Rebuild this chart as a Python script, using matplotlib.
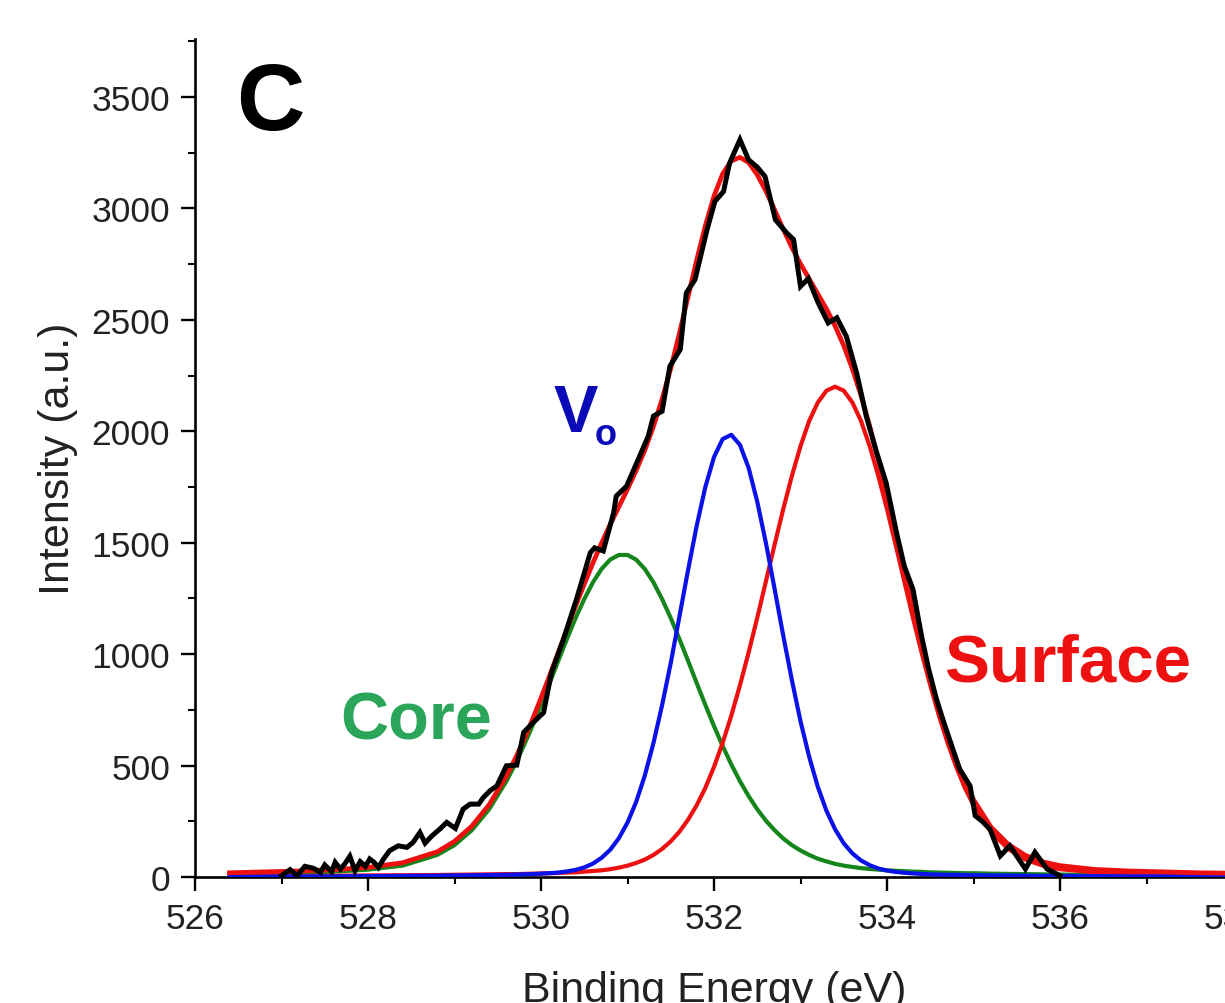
import matplotlib
matplotlib.use("Agg")
import matplotlib.pyplot as plt
from matplotlib.ticker import MultipleLocator

plt.rcParams['font.family'] = ['Liberation Sans', 'DejaVu Sans']

# ---------------- data ----------------
energy_fit = [526.4, 526.8, 527.2, 527.6, 528.0, 528.4, 528.8, 529.0, 529.2, 529.4,
              529.6, 529.7, 529.8, 529.9, 530.0, 530.1, 530.2, 530.3, 530.4, 530.5,
              530.6, 530.7, 530.8, 530.9, 531.0, 531.1, 531.2, 531.3, 531.4, 531.5,
              531.6, 531.7, 531.8, 531.9, 532.0, 532.1, 532.2, 532.3, 532.4, 532.5,
              532.6, 532.7, 532.8, 532.9, 533.0, 533.1, 533.2, 533.3, 533.4, 533.5,
              533.6, 533.7, 533.8, 533.9, 534.0, 534.1, 534.2, 534.3, 534.4, 534.5,
              534.6, 534.7, 534.8, 534.9, 535.0,
              535.2, 535.4, 535.6, 535.8, 536.0, 536.4, 536.8, 537.2, 537.6, 538.0]

core_fit = [13, 16, 19, 24, 33, 51, 99, 143, 210, 304,
            430, 505, 588, 677, 772, 870, 970, 1068, 1162, 1247,
            1322, 1382, 1424, 1445, 1445, 1424, 1382, 1322, 1247, 1162,
            1068, 970, 870, 772, 677, 588, 505, 430, 363, 304,
            253, 210, 173, 143, 119, 99, 82, 70, 59, 51,
            45, 40, 36, 33, 30, 28, 26, 24, 23, 21,
            20, 19, 18, 17, 17,
            15, 14, 13, 12, 11, 9, 8, 7, 6, 6]

vo_fit = [2, 2, 3, 3, 4, 5, 6, 7, 8, 9,
          10, 11, 12, 13, 15, 17, 20, 25, 32, 43,
          60, 86, 122, 174, 244, 337, 455, 601, 771, 960,
          1168, 1377, 1576, 1750, 1884, 1965, 1984, 1939, 1836, 1684,
          1499, 1294, 1084, 884, 699, 540, 405, 297, 214, 151,
          106, 74, 53, 38, 29, 23, 19, 16, 14, 12,
          11, 10, 10, 9, 8,
          7, 7, 6, 5, 5, 4, 3, 3, 2, 2]

surface_fit = [4, 4, 5, 6, 7, 8, 9, 10, 11, 12,
               13, 13, 14, 15, 16, 17, 18, 20, 21, 24,
               27, 30, 35, 42, 51, 63, 78, 99, 126, 160,
               203, 257, 322, 400, 494, 602, 724, 860, 1007, 1163,
               1326, 1490, 1650, 1799, 1933, 2046, 2129, 2182, 2200, 2182,
               2129, 2046, 1933, 1799, 1650, 1490, 1326, 1163, 1007, 860,
               724, 602, 494, 400, 322,
               203, 126, 78, 51, 35, 21, 16, 13, 11, 9]

envelope_fit = [19, 23, 27, 33, 43, 64, 113, 160, 228, 324,
                453, 529, 614, 705, 803, 904, 1008, 1112, 1216, 1314,
                1409, 1498, 1582, 1661, 1740, 1824, 1915, 2022, 2144, 2282,
                2439, 2604, 2768, 2922, 3055, 3155, 3213, 3229, 3206, 3151,
                3078, 2994, 2907, 2825, 2751, 2684, 2616, 2549, 2473, 2384,
                2280, 2160, 2022, 1870, 1709, 1541, 1371, 1203, 1044, 893,
                755, 631, 522, 426, 347,
                225, 147, 97, 68, 51, 34, 27, 23, 19, 17]

energy_data = [527.00, 527.10, 527.18, 527.27, 527.37, 527.45, 527.50, 527.58, 527.62, 527.68,
               527.73, 527.79, 527.85, 527.91, 527.97, 528.02, 528.07, 528.12, 528.18, 528.25,
               528.35, 528.45, 528.52, 528.60, 528.66, 528.74, 528.83, 528.91, 529.01, 529.10,
               529.18, 529.28, 529.33, 529.41, 529.49, 529.60, 529.72, 529.80, 529.91, 530.03,
               530.12, 530.26, 530.41, 530.57, 530.62, 530.72, 530.84, 530.87, 530.99, 531.14,
               531.24, 531.30, 531.40, 531.49, 531.61, 531.68, 531.78, 531.92, 532.01, 532.11,
               532.18, 532.30, 532.40, 532.50, 532.59, 532.71, 532.84, 532.92, 533.00, 533.09,
               533.20, 533.32, 533.42, 533.53, 533.65, 533.76, 533.88, 533.99, 534.11, 534.20,
               534.30, 534.40, 534.48, 534.57, 534.66, 534.76, 534.84, 534.96, 535.02, 535.10,
               535.19, 535.31, 535.42, 535.60, 535.71, 535.85, 536.00]

intensity_data = [6, 33, 6, 48, 39, 21, 54, 24, 66, 36,
                  58, 93, 28, 69, 48, 81, 66, 43, 81, 118,
                  140, 133, 155, 200, 152, 185, 215, 245, 218, 305,
                  327, 327, 355, 387, 409, 499, 502, 649, 693, 738,
                  915, 1067, 1246, 1455, 1477, 1463, 1635, 1709, 1754, 1888,
                  1978, 2068, 2090, 2292, 2367, 2621, 2680, 2905, 3031, 3076,
                  3203, 3308, 3218, 3185, 3143, 2949, 2890, 2860, 2650, 2685,
                  2580, 2486, 2509, 2426, 2260, 2068, 1905, 1769, 1545, 1395,
                  1291, 1080, 935, 800, 690, 575, 484, 409, 275, 250,
                  215, 95, 140, 36, 111, 36, 6]

x_ticks = [526, 528, 530, 532, 534, 536, 538]
y_ticks = [0, 500, 1000, 1500, 2000, 2500, 3000, 3500]

# ---------------- figure ----------------
W, H = 1225, 1004
fig = plt.figure(figsize=(W / 100, H / 100), dpi=100)
fx = lambda x: x / W
fy = lambda y: 1 - y / H

ax = fig.add_axes([fx(195), 126 / H, (1233 - 195) / W, (878 - 40) / H])

green = '#15861b'
blue = '#0b12e8'
red = '#ec1010'

ax.plot(energy_fit, core_fit, color=green, lw=3.0, zorder=2)
ax.plot(energy_fit, surface_fit, color=red, lw=3.0, zorder=3)
ax.plot(energy_fit, vo_fit, color=blue, lw=3.0, zorder=4)
ax.plot(energy_fit, envelope_fit, color=red, lw=3.4, zorder=5)
ax.plot(energy_data, intensity_data, color='black', lw=3.6, zorder=6,
        solid_joinstyle='miter')

ax.set_xlim(526, 538)
ax.set_ylim(0, 3760)
ax.set_xticks(x_ticks)
ax.set_yticks(y_ticks)
ax.xaxis.set_minor_locator(MultipleLocator(1))
ax.yaxis.set_minor_locator(MultipleLocator(250))

for s in ['top', 'right']:
    ax.spines[s].set_visible(False)
for s in ['left', 'bottom']:
    ax.spines[s].set_linewidth(1.9)

ax.tick_params(which='major', direction='out', length=10, width=1.7,
               labelsize=25.5, pad=8, labelcolor='#222222')
ax.tick_params(which='minor', direction='out', length=5, width=1.5)

fig.text(fx(714), fy(1002), 'Binding Energy (eV)', fontsize=31,
         ha='center', va='baseline', color='#222222')
fig.text(fx(58), fy(459), 'Intensity (a.u.)', fontsize=31, rotation=90,
         ha='center', va='center', color='#222222')

fig.text(fx(236), fy(130), 'C', fontsize=68, fontweight='bold',
         ha='left', va='baseline', color='black')
fig.text(fx(340), fy(740), 'Core', fontsize=48, fontweight='bold',
         ha='left', va='baseline', color='#2aa55a')
fig.text(fx(944), fy(682), 'Surface', fontsize=48.5, fontweight='bold',
         ha='left', va='baseline', color='#ee1111')
fig.text(fx(554), fy(432), 'V', fontsize=48, fontweight='bold',
         ha='left', va='baseline', color='#0a0ab8')
fig.text(fx(595), fy(445), 'o', fontsize=26, fontweight='bold',
         ha='left', va='baseline', color='#0a0ab8')

fig.savefig('out.png', dpi=100)
